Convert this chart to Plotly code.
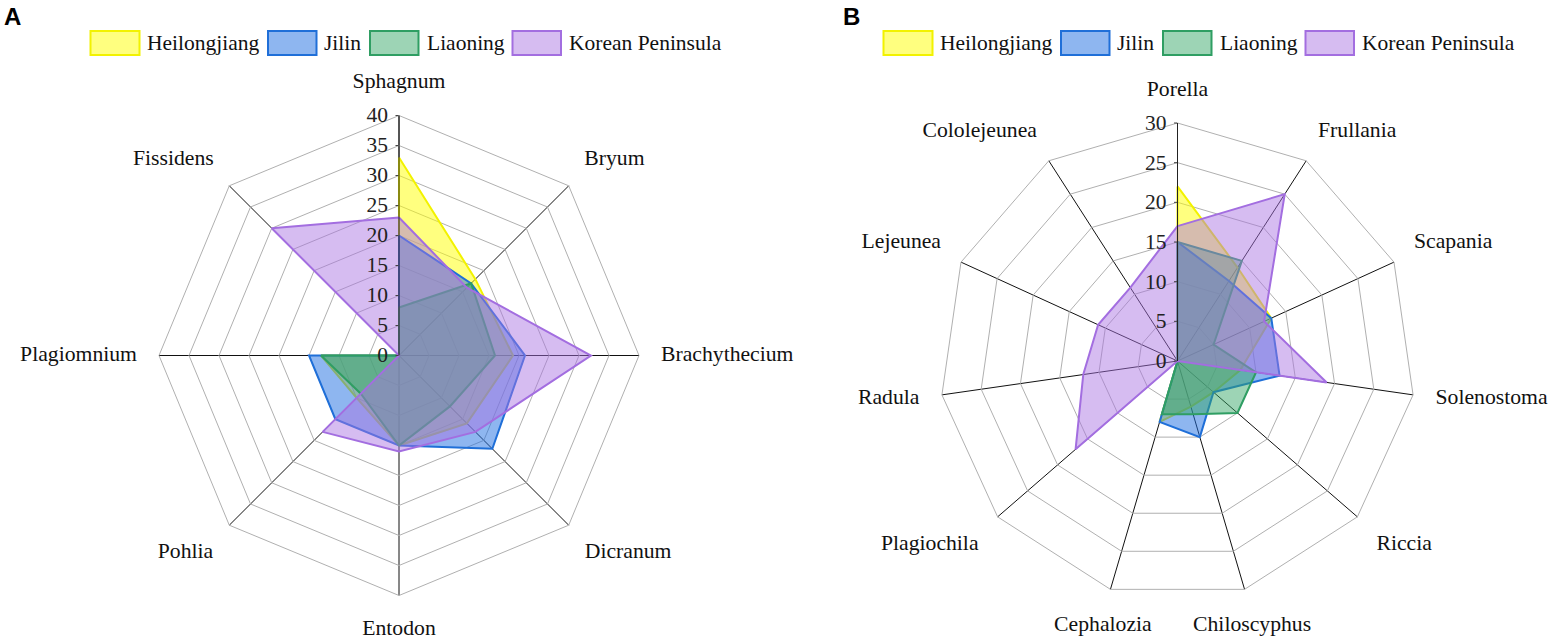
import math
import plotly.graph_objects as go

# ---------------- data ----------------
series_names = ["Heilongjiang", "Jilin", "Liaoning", "Korean Peninsula"]

cats_a = ["Sphagnum", "Bryum", "Brachythecium", "Dicranum", "Entodon",
          "Pohlia", "Plagiomnium", "Fissidens"]
heilongjiang_a = [33, 18, 19, 16, 15, 10, 13, 0]
jilin_a = [20, 17, 21, 22, 15, 15, 15, 0]
liaoning_a = [8, 17, 16, 12, 15, 9, 13, 0]
korean_a = [23, 16, 32, 18, 16, 18, 0, 30]

cats_b = ["Porella", "Frullania", "Scapania", "Solenostoma", "Riccia",
          "Chiloscyphus", "Cephalozia", "Plagiochila", "Radula", "Lejeunea",
          "Cololejeunea"]
heilongjiang_b = [22, 14, 13, 8, 6, 6, 8, 0, 0, 0, 0]
jilin_b = [15, 12, 13, 13, 6, 10, 8, 0, 0, 0, 0]
liaoning_b = [15, 15, 5, 10, 10, 7, 7, 0, 0, 0, 0]
korean_b = [17, 25, 12, 19, 0, 0, 0, 17, 12, 11, 11]

radial_ticks_a = [0, 5, 10, 15, 20, 25, 30, 35, 40]
radial_ticks_b = [0, 5, 10, 15, 20, 25, 30]

# ---------------- style ----------------
line_colors = ["#f2f200", "#1f6fd8", "#2f9e63", "#a36ee0"]
fill_colors = ["rgba(255,255,0,0.5)", "rgba(30,110,225,0.5)",
               "rgba(50,165,100,0.48)", "rgba(170,115,225,0.48)"]
serif = "Liberation Serif, Times New Roman, serif"
FS = 21.7

W, H = 1553, 642


def xp(x):
    return x / W


def yp(y):
    return 1 - y / H


fig = go.Figure()


def close(v):
    return list(v) + [v[0]]


def label_positions(n):
    pos = []
    for i in range(n):
        a = 2 * math.pi * i / n  # clockwise from top
        s, c = math.sin(a), math.cos(a)
        if abs(c) < 0.25:
            v = "middle"
        else:
            v = "top" if c > 0 else "bottom"
        if abs(s) < 0.3:
            h = "center"
        else:
            h = "right" if s > 0 else "left"
        pos.append(v + " " + h)
    return pos


def label_gaps(n, extra_below):
    # gap (px) between outer ring and category label
    return [22 + extra_below * max(0.0, -math.cos(2 * math.pi * i / n))
            for i in range(n)]


# panel geometry (screen px): centre, ring radius, label-layer radius
geom = {
    "A": dict(cx=399, cy=355.5, rad=240, lab_rad=285, below=1),
    "B": dict(cx=1177.5, cy=361, rad=238, lab_rad=280, below=5),
}

sets = [
    ("polar", "polar3", "A", cats_a,
     [heilongjiang_a, jilin_a, liaoning_a, korean_a], radial_ticks_a),
    ("polar2", "polar4", "B", cats_b,
     [heilongjiang_b, jilin_b, liaoning_b, korean_b], radial_ticks_b),
]
for polar, lab_polar, key, cats, vals, ticks in sets:
    for name, v, lc, fc in zip(series_names, vals, line_colors, fill_colors):
        fig.add_trace(go.Scatterpolar(
            r=close(v), theta=close(cats), name=name, mode="lines",
            fill="toself", fillcolor=fc, line=dict(color=lc, width=2),
            subplot=polar, showlegend=False, hoverinfo="skip"))
    # category names, on an invisible polar layer with the same scale
    g = geom[key]
    unit = g["rad"] / ticks[-1]
    r_label = [(g["rad"] + gap) / unit
               for gap in label_gaps(len(cats), g["below"])]
    fig.add_trace(go.Scatterpolar(
        r=r_label, theta=cats, text=cats, mode="text",
        textposition=label_positions(len(cats)),
        textfont=dict(family=serif, size=FS, color="#111"),
        subplot=lab_polar, showlegend=False, hoverinfo="skip"))


def px_domain(cx, cy, rad):
    return dict(x=[xp(cx - rad), xp(cx + rad)],
                y=[yp(cy + rad), yp(cy - rad)])


def polar_layout(cats, ticks, dom):
    return dict(
        domain=dom,
        gridshape="linear",
        bgcolor="white",
        radialaxis=dict(
            range=[0, ticks[-1]], tickvals=ticks, angle=90, tickangle=90,
            side="counterclockwise", showline=True, linecolor="#222",
            linewidth=1, gridcolor="#b0b0b0", gridwidth=1,
            ticks="outside", ticklen=3, tickcolor="#444",
            tickfont=dict(family=serif, size=21.5, color="#222"),
            layer="above traces"),
        angularaxis=dict(
            type="category", categoryarray=cats, rotation=90,
            direction="clockwise", showline=True, linecolor="#b0b0b0",
            linewidth=1, gridcolor="#111", gridwidth=1,
            showticklabels=False, ticks="",
            layer="below traces"),
    )


def label_layout(cats, ticks, key):
    g = geom[key]
    unit = g["rad"] / ticks[-1]
    return dict(
        domain=px_domain(g["cx"], g["cy"], g["lab_rad"]),
        bgcolor="rgba(0,0,0,0)",
        radialaxis=dict(range=[0, g["lab_rad"] / unit], visible=False),
        angularaxis=dict(type="category", categoryarray=cats, rotation=90,
                         direction="clockwise", visible=False),
    )


# manual legends (box x-ranges and text starts, in screen px, for panel A)
legend_boxes_a = [(90.5, 139.5), (268, 316.5), (370, 418.5), (512.5, 561)]
legend_text_a = [145, 322, 424.5, 567]
legend_shift_b = 793
shapes = []
annotations = []
for shift in (0, legend_shift_b):
    for (x0, x1), tx, name, lc, fc in zip(legend_boxes_a, legend_text_a,
                                           series_names, line_colors,
                                           fill_colors):
        shapes.append(dict(type="rect", xref="paper", yref="paper",
                           x0=xp(x0 + shift), x1=xp(x1 + shift),
                           y0=yp(55), y1=yp(31), fillcolor=fc,
                           line=dict(color=lc, width=2)))
        annotations.append(dict(text=name, x=xp(tx + shift), y=yp(43),
                                xref="paper", yref="paper", xanchor="left",
                                yanchor="middle", showarrow=False,
                                font=dict(family=serif, size=21.5, color="#111")))

annotations += [
    dict(text="<b>A</b>", x=xp(2), y=yp(16), xref="paper", yref="paper",
         xanchor="left", yanchor="middle", showarrow=False,
         font=dict(family="Liberation Sans, Arial", size=24, color="#000")),
    dict(text="<b>B</b>", x=xp(841), y=yp(16), xref="paper", yref="paper",
         xanchor="left", yanchor="middle", showarrow=False,
         font=dict(family="Liberation Sans, Arial", size=24, color="#000")),
]

fig.update_layout(
    width=W, height=H,
    margin=dict(l=0, r=0, t=0, b=0),
    paper_bgcolor="white",
    showlegend=False,
    polar=polar_layout(cats_a, radial_ticks_a,
                       px_domain(geom["A"]["cx"], geom["A"]["cy"], geom["A"]["rad"])),
    polar2=polar_layout(cats_b, radial_ticks_b,
                        px_domain(geom["B"]["cx"], geom["B"]["cy"], geom["B"]["rad"])),
    polar3=label_layout(cats_a, radial_ticks_a, "A"),
    polar4=label_layout(cats_b, radial_ticks_b, "B"),
    shapes=shapes,
    annotations=annotations,
)

fig.write_html("out.html", config={"displayModeBar": False},
               post_script="document.body.style.margin='0';"
                           "document.body.style.padding='0';")
